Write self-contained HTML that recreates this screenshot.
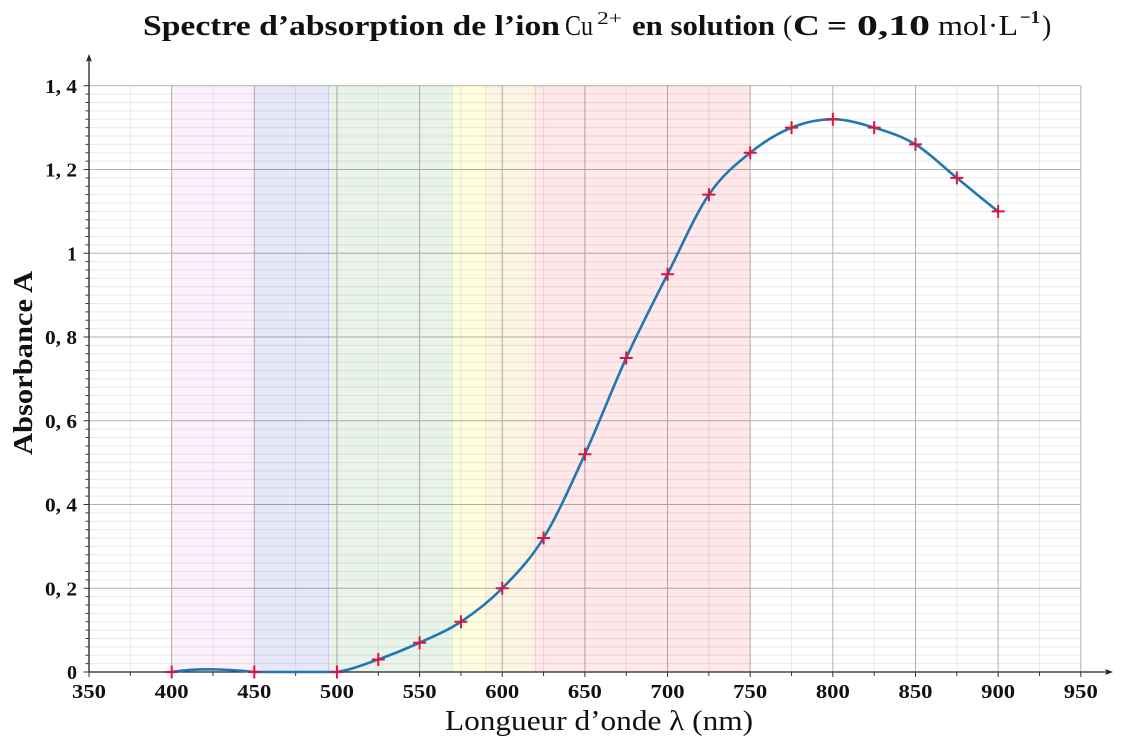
<!DOCTYPE html>
<html>
<head>
<meta charset="utf-8">
<style>
  html,body{margin:0;padding:0;background:#fff;}
  svg{display:block;}
  .tk{font-family:"Liberation Serif",serif;font-weight:bold;font-size:20px;fill:#111;}
</style>
</head>
<body>
<svg width="1125" height="750" viewBox="0 0 1125 750" xmlns="http://www.w3.org/2000/svg">
  <rect x="0" y="0" width="1125" height="750" fill="#fff"/>

  <!-- colour bands -->
  <rect x="171.65" y="85.75" width="82.65" height="586.25" fill="#fcf0fc"/>
  <rect x="254.3" y="85.75" width="74.39" height="586.25" fill="#e7e7fa"/>
  <rect x="328.69" y="85.75" width="123.97" height="586.25" fill="#eaf3ea"/>
  <rect x="452.66" y="85.75" width="33.06" height="586.25" fill="#fffee1"/>
  <rect x="485.72" y="85.75" width="49.59" height="586.25" fill="#fef4e4"/>
  <rect x="535.31" y="85.75" width="214.89" height="586.25" fill="#fee8e9"/>
  <g stroke-width="1">
    <line x1="328.69" y1="85.75" x2="328.69" y2="672" stroke="#c9c9ee"/>
    <line x1="452.66" y1="85.75" x2="452.66" y2="672" stroke="#e6efbf"/>
    <line x1="485.72" y1="85.75" x2="485.72" y2="672" stroke="#fbe2b4"/>
    <line x1="535.31" y1="85.75" x2="535.31" y2="672" stroke="#f8cfc4"/>
  </g>

  <!-- minor horizontal grid -->
  <path fill="none" stroke="#000" stroke-opacity="0.08" stroke-width="1" d="
M89 663.625H1081M89 655.25H1081M89 646.875H1081M89 638.5H1081M89 630.125H1081M89 621.75H1081M89 613.375H1081M89 605H1081M89 596.625H1081
M89 579.875H1081M89 571.5H1081M89 563.125H1081M89 554.75H1081M89 546.375H1081M89 538H1081M89 529.625H1081M89 521.25H1081M89 512.875H1081
M89 496.125H1081M89 487.75H1081M89 479.375H1081M89 471H1081M89 462.625H1081M89 454.25H1081M89 445.875H1081M89 437.5H1081M89 429.125H1081
M89 412.375H1081M89 404H1081M89 395.625H1081M89 387.25H1081M89 378.875H1081M89 370.5H1081M89 362.125H1081M89 353.75H1081M89 345.375H1081
M89 328.625H1081M89 320.25H1081M89 311.875H1081M89 303.5H1081M89 295.125H1081M89 286.75H1081M89 278.375H1081M89 270H1081M89 261.625H1081
M89 244.875H1081M89 236.5H1081M89 228.125H1081M89 219.75H1081M89 211.375H1081M89 203H1081M89 194.625H1081M89 186.25H1081M89 177.875H1081
M89 161.125H1081M89 152.75H1081M89 144.375H1081M89 136H1081M89 127.625H1081M89 119.25H1081M89 110.875H1081M89 102.5H1081M89 94.125H1081"/>
  <!-- minor vertical grid -->
  <path fill="none" stroke="#000" stroke-opacity="0.08" stroke-width="1" d="
M130.325 85.75V672M212.975 85.75V672M295.625 85.75V672M378.275 85.75V672M460.925 85.75V672M543.575 85.75V672
M626.225 85.75V672M708.875 85.75V672M791.525 85.75V672M874.175 85.75V672M956.825 85.75V672M1039.475 85.75V672"/>
  <!-- major grid -->
  <path fill="none" stroke="#000" stroke-opacity="0.3" stroke-width="1" d="
M89 588.25H1081M89 504.5H1081M89 420.75H1081M89 337H1081M89 253.25H1081M89 169.5H1081M89 85.75H1081
M171.65 85.75V672M254.3 85.75V672M336.95 85.75V672M419.6 85.75V672M502.25 85.75V672M584.9 85.75V672
M667.55 85.75V672M750.2 85.75V672M832.85 85.75V672M915.5 85.75V672M998.15 85.75V672M1080.8 85.75V672"/>

  <!-- axes -->
  <g stroke="#222" stroke-width="1.3" fill="none">
    <line x1="89" y1="672" x2="89" y2="58"/>
    <line x1="89" y1="672" x2="1108" y2="672"/>
  </g>
  <path d="M89 54 L86 62 L89 60 L92 62 Z" fill="#222"/>
  <path d="M1113 672 L1105 669 L1107 672 L1105 675 Z" fill="#222"/>

  <!-- y ticks -->
  <path fill="none" stroke="#333" stroke-width="1" d="
M85.5 663.625H89M85.5 655.25H89M85.5 646.875H89M85.5 638.5H89M85.5 630.125H89M85.5 621.75H89M85.5 613.375H89M85.5 605H89M85.5 596.625H89
M85.5 579.875H89M85.5 571.5H89M85.5 563.125H89M85.5 554.75H89M85.5 546.375H89M85.5 538H89M85.5 529.625H89M85.5 521.25H89M85.5 512.875H89
M85.5 496.125H89M85.5 487.75H89M85.5 479.375H89M85.5 471H89M85.5 462.625H89M85.5 454.25H89M85.5 445.875H89M85.5 437.5H89M85.5 429.125H89
M85.5 412.375H89M85.5 404H89M85.5 395.625H89M85.5 387.25H89M85.5 378.875H89M85.5 370.5H89M85.5 362.125H89M85.5 353.75H89M85.5 345.375H89
M85.5 328.625H89M85.5 320.25H89M85.5 311.875H89M85.5 303.5H89M85.5 295.125H89M85.5 286.75H89M85.5 278.375H89M85.5 270H89M85.5 261.625H89
M85.5 244.875H89M85.5 236.5H89M85.5 228.125H89M85.5 219.75H89M85.5 211.375H89M85.5 203H89M85.5 194.625H89M85.5 186.25H89M85.5 177.875H89
M85.5 161.125H89M85.5 152.75H89M85.5 144.375H89M85.5 136H89M85.5 127.625H89M85.5 119.25H89M85.5 110.875H89M85.5 102.5H89M85.5 94.125H89
M83.5 672H89M83.5 588.25H89M83.5 504.5H89M83.5 420.75H89M83.5 337H89M83.5 253.25H89M83.5 169.5H89M83.5 85.75H89"/>
  <!-- x ticks -->
  <path fill="none" stroke="#333" stroke-width="1" d="
M89 672V677M130.325 672V676M171.65 672V677M212.975 672V676M254.3 672V677M295.625 672V676M336.95 672V677M378.275 672V676
M419.6 672V677M460.925 672V676M502.25 672V677M543.575 672V676M584.9 672V677M626.225 672V676M667.55 672V677M708.875 672V676
M750.2 672V677M791.525 672V676M832.85 672V677M874.175 672V676M915.5 672V677M956.825 672V676M998.15 672V677M1039.475 672V676M1080.8 672V677"/>

  <!-- curve -->
  <path fill="none" stroke="#2077b4" stroke-width="2.6" stroke-linecap="round" stroke-linejoin="round" d="
M171.65,672 C199.2,667.81 226.75,669.21 254.3,672 L336.95,672
C350.72,669.91 364.5,664.32 378.28,659.44
C392.05,654.55 405.83,648.97 419.6,642.69
C433.37,636.41 447.15,630.82 460.93,621.75
C474.7,612.68 488.48,602.21 502.25,588.25
C516.02,574.29 529.8,560.33 543.58,538
C557.35,515.67 571.13,484.26 584.9,454.25
C598.67,424.24 612.45,387.95 626.23,357.94
C640,327.93 653.78,301.41 667.55,274.19
C681.32,246.97 695.1,214.87 708.88,194.63
C722.65,174.39 736.43,163.92 750.2,152.75
C763.97,141.58 777.75,133.21 791.53,127.63
C805.3,122.04 819.08,119.25 832.85,119.25
C846.62,119.25 860.4,123.44 874.18,127.63
C887.95,131.81 901.73,136 915.5,144.38
C929.27,152.75 943.05,166.71 956.83,177.88
C970.6,189.04 984.38,200.91 998.15,211.38"/>

  <!-- markers -->
  <path fill="none" stroke="#dc143c" stroke-width="2" d="
M165.15 672H178.15M171.65 665.5V678.5
M247.8 672H260.8M254.3 665.5V678.5
M330.45 672H343.45M336.95 665.5V678.5
M371.78 659.44H384.78M378.28 652.94V665.94
M413.1 642.69H426.1M419.6 636.19V649.19
M454.43 621.75H467.43M460.93 615.25V628.25
M495.75 588.25H508.75M502.25 581.75V594.75
M537.08 538H550.08M543.58 531.5V544.5
M578.4 454.25H591.4M584.9 447.75V460.75
M619.73 357.94H632.73M626.23 351.44V364.44
M661.05 274.19H674.05M667.55 267.69V280.69
M702.38 194.63H715.38M708.88 188.13V201.13
M743.7 152.75H756.7M750.2 146.25V159.25
M785.03 127.63H798.03M791.53 121.13V134.13
M826.35 119.25H839.35M832.85 112.75V125.75
M867.68 127.63H880.68M874.18 121.13V134.13
M909 144.38H922M915.5 137.88V150.88
M950.33 177.88H963.33M956.83 171.38V184.38
M991.65 211.38H1004.65M998.15 204.88V217.88"/>

  <!-- y tick labels -->
  <g class="tk" text-anchor="end">
    <text x="77" y="679">0</text>
    <text x="77" y="595.25" textLength="32" lengthAdjust="spacingAndGlyphs">0, 2</text>
    <text x="77" y="511.5" textLength="32" lengthAdjust="spacingAndGlyphs">0, 4</text>
    <text x="77" y="427.75" textLength="32" lengthAdjust="spacingAndGlyphs">0, 6</text>
    <text x="77" y="344" textLength="32" lengthAdjust="spacingAndGlyphs">0, 8</text>
    <text x="77" y="260.25">1</text>
    <text x="77" y="176.5" textLength="32" lengthAdjust="spacingAndGlyphs">1, 2</text>
    <text x="77" y="92.75" textLength="32" lengthAdjust="spacingAndGlyphs">1, 4</text>
  </g>

  <!-- x tick labels -->
  <g class="tk" text-anchor="middle">
    <text x="89" y="698" textLength="34" lengthAdjust="spacingAndGlyphs">350</text>
    <text x="171.65" y="698" textLength="34" lengthAdjust="spacingAndGlyphs">400</text>
    <text x="254.3" y="698" textLength="34" lengthAdjust="spacingAndGlyphs">450</text>
    <text x="336.95" y="698" textLength="34" lengthAdjust="spacingAndGlyphs">500</text>
    <text x="419.6" y="698" textLength="34" lengthAdjust="spacingAndGlyphs">550</text>
    <text x="502.25" y="698" textLength="34" lengthAdjust="spacingAndGlyphs">600</text>
    <text x="584.9" y="698" textLength="34" lengthAdjust="spacingAndGlyphs">650</text>
    <text x="667.55" y="698" textLength="34" lengthAdjust="spacingAndGlyphs">700</text>
    <text x="750.2" y="698" textLength="34" lengthAdjust="spacingAndGlyphs">750</text>
    <text x="832.85" y="698" textLength="34" lengthAdjust="spacingAndGlyphs">800</text>
    <text x="915.5" y="698" textLength="34" lengthAdjust="spacingAndGlyphs">850</text>
    <text x="998.15" y="698" textLength="34" lengthAdjust="spacingAndGlyphs">900</text>
    <text x="1080.8" y="698" textLength="34" lengthAdjust="spacingAndGlyphs">950</text>
  </g>

  <!-- axis titles -->
  <text x="445" y="730" font-family="Liberation Serif, serif" font-size="28" fill="#111" textLength="308" lengthAdjust="spacingAndGlyphs">Longueur d’onde λ (nm)</text>
  <text transform="translate(32,363) rotate(-90)" text-anchor="middle" font-family="Liberation Serif, serif" font-weight="bold" font-size="27" fill="#111" textLength="184" lengthAdjust="spacingAndGlyphs">Absorbance A</text>

  <!-- title -->
  <g font-family="Liberation Serif, serif" fill="#111">
    <text x="143" y="35" font-size="28" font-weight="bold" textLength="417" lengthAdjust="spacingAndGlyphs">Spectre d’absorption de l’ion</text>
    <text x="565" y="35" font-size="28" textLength="28" lengthAdjust="spacingAndGlyphs">Cu</text>
    <text x="597" y="24" font-size="18" textLength="25" lengthAdjust="spacingAndGlyphs">2+</text>
    <text x="632" y="35" font-size="28" font-weight="bold" textLength="143" lengthAdjust="spacingAndGlyphs">en solution</text>
    <text x="783" y="35" font-size="28">(</text>
    <text x="793" y="35" font-size="28" font-weight="bold" textLength="27" lengthAdjust="spacingAndGlyphs">C</text>
    <text x="827" y="35" font-size="28" font-weight="bold" textLength="20" lengthAdjust="spacingAndGlyphs">=</text>
    <text x="857" y="35" font-size="28" font-weight="bold" textLength="73" lengthAdjust="spacingAndGlyphs">0,10</text>
    <text x="938" y="35" font-size="28" textLength="80" lengthAdjust="spacingAndGlyphs">mol·L</text>
    <text x="1020" y="23" font-size="18" font-weight="bold" textLength="20" lengthAdjust="spacingAndGlyphs">−1</text>
    <text x="1042" y="35" font-size="28">)</text>
  </g>
</svg>
</body>
</html>
